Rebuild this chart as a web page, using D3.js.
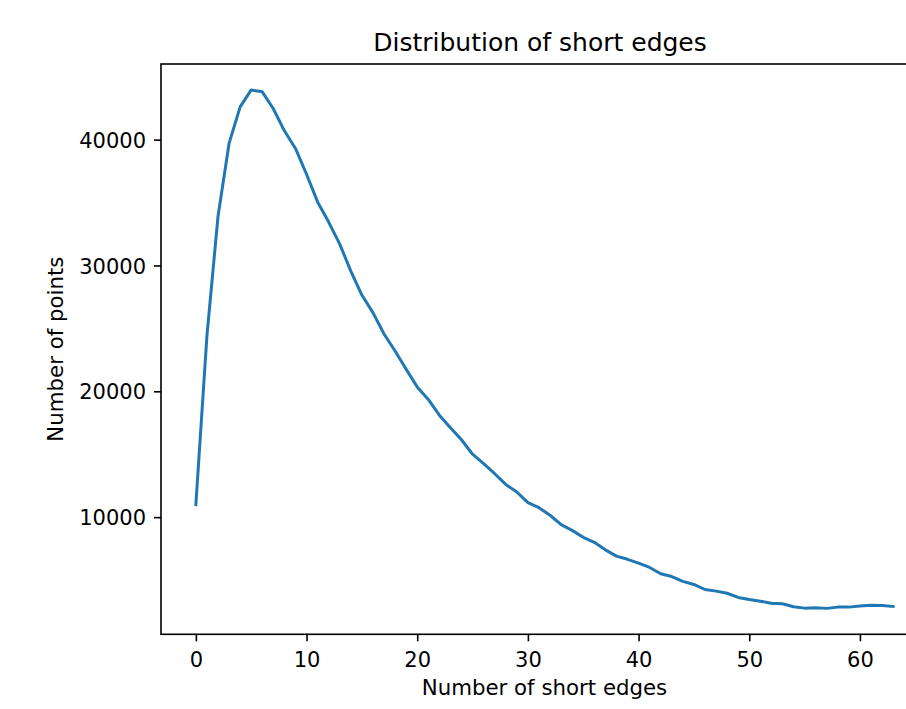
<!DOCTYPE html>
<html>
<head>
<meta charset="utf-8">
<title>Distribution of short edges</title>
<script src="https://cdn.jsdelivr.net/npm/d3@7"></script>
<style>
  html, body { margin: 0; padding: 0; background: #ffffff; overflow: hidden; }
  text { font-family: "DejaVu Sans", sans-serif; fill: #000000; }
</style>
</head>
<body>
<div id="chart"></div>
<script>
// number of short edges per point (x) and how many points have that count (y)
const shortEdges = d3.range(0, 64);
const pointCounts = [
  11000, 24400, 33900, 39700, 42600, 43950, 43800, 42450, 40700, 39300,
  37250, 35050, 33450, 31700, 29550, 27650, 26250, 24550, 23200, 21750,
  20350, 19350, 18100, 17100, 16150, 15000, 14250, 13450, 12600, 12000,
  11150, 10750, 10150, 9400, 8950, 8400, 8000, 7400, 6900, 6650,
  6350, 6000, 5500, 5280, 4900, 4650, 4250, 4120, 3950, 3620,
  3450, 3320, 3160, 3120, 2880, 2770, 2800, 2750, 2850, 2850,
  2930, 3000, 2980, 2900
];
const xTicks = [0, 10, 20, 30, 40, 50, 60];
const yTicks = [10000, 20000, 30000, 40000];

const titleText = "Distribution of short edges";
const xLabelText = "Number of short edges";
const yLabelText = "Number of points";

document.addEventListener("DOMContentLoaded", function () {
  const width = 906;
  const height = 709;

  // axes box (right edge runs past the picture, as in the original figure)
  const left = 161, top = 64, right = 928, bottom = 634.3;

  const svg = d3.select("#chart").append("svg")
    .attr("width", width)
    .attr("height", height)
    .style("display", "block");

  svg.append("rect")
    .attr("width", width)
    .attr("height", height)
    .attr("fill", "#ffffff");

  // matplotlib style 5% margins around the data
  const xMin = d3.min(shortEdges), xMax = d3.max(shortEdges);
  const xPad = (xMax - xMin) * 0.05;
  const x = d3.scaleLinear()
    .domain([xMin - xPad, xMax + xPad])
    .range([left, right]);

  const yMin = d3.min(pointCounts), yMax = d3.max(pointCounts);
  const yPad = (yMax - yMin) * 0.05;
  const y = d3.scaleLinear()
    .domain([yMin - yPad, yMax + yPad])
    .range([bottom, top]);

  // the line
  const line = d3.line()
    .x(function (d, i) { return x(shortEdges[i]); })
    .y(function (d) { return y(d); });

  svg.append("path")
    .datum(pointCounts)
    .attr("d", line)
    .attr("fill", "none")
    .attr("stroke", "#1f77b4")
    .attr("stroke-width", 3)
    .attr("stroke-linejoin", "round")
    .attr("stroke-linecap", "square");

  // x axis
  const xAxis = svg.append("g")
    .attr("transform", "translate(0," + bottom + ")")
    .call(d3.axisBottom(x).tickValues(xTicks).tickFormat(d3.format("d"))
      .tickSize(7).tickPadding(7));

  // y axis
  const yAxis = svg.append("g")
    .attr("transform", "translate(" + left + ",0)")
    .call(d3.axisLeft(y).tickValues(yTicks).tickFormat(d3.format("d"))
      .tickSize(7).tickPadding(8));

  [xAxis, yAxis].forEach(function (g) {
    g.select(".domain").remove();
    g.selectAll(".tick line").attr("stroke", "#000000").attr("stroke-width", 1.6);
    g.selectAll(".tick text")
      .attr("fill", "#000000")
      .style("font-family", "DejaVu Sans, sans-serif")
      .style("font-size", "21px");
  });
  xAxis.selectAll(".tick text").attr("dy", "0.89em");
  yAxis.selectAll(".tick text").attr("dy", "0.36em");

  // frame
  svg.append("rect")
    .attr("x", left)
    .attr("y", top)
    .attr("width", right - left)
    .attr("height", bottom - top)
    .attr("fill", "none")
    .attr("stroke", "#000000")
    .attr("stroke-width", 1.6);

  // title and axis labels
  svg.append("text")
    .attr("x", (left + right) / 2 - 4.5)
    .attr("y", 51)
    .attr("text-anchor", "middle")
    .style("font-size", "25px")
    .text(titleText);

  svg.append("text")
    .attr("x", (left + right) / 2)
    .attr("y", 695)
    .attr("text-anchor", "middle")
    .style("font-size", "21.3px")
    .text(xLabelText);

  svg.append("text")
    .attr("transform", "translate(63," + (top + bottom) / 2 + ") rotate(-90)")
    .attr("text-anchor", "middle")
    .style("font-size", "21.3px")
    .text(yLabelText);
});
</script>
</body>
</html>
